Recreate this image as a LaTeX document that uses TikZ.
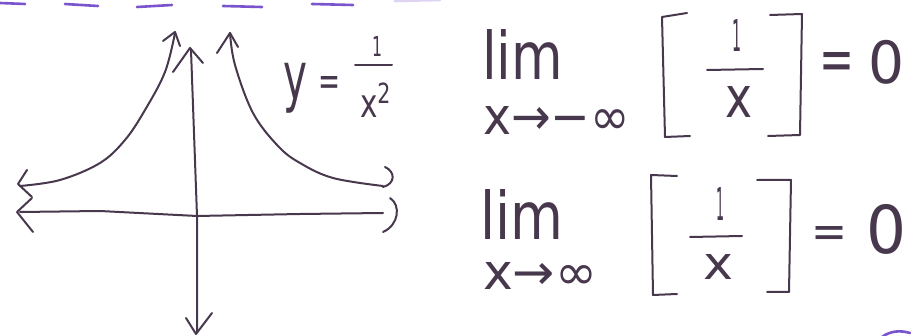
\documentclass[tikz,border=0pt]{standalone}
\usepackage{fontspec}
\usepackage{graphicx}
\setmainfont{DejaVu Sans}
\definecolor{ink}{RGB}{72,56,78}
\definecolor{hl}{RGB}{122,84,204}
\newcommand{\fitbox}[3]{\resizebox*{#1}{#2}{#3}}
\tikzset{
  pen/.style={draw=ink, line width=2pt, line cap=round, line join=round},
  hlpen/.style={draw=hl, line width=2.6pt, line cap=round},
  txt/.style={inner sep=0pt, outer sep=0pt, text=ink},
}
\begin{document}
\begin{tikzpicture}[x=1pt,y=-1pt]
\useasboundingbox[fill=white] (0,0) rectangle (911,336);
% purple dashes at top
\draw[hlpen] (0,3) -- (25,4);
\draw[hlpen] (65,4) -- (98,6);
\draw[hlpen] (137,7) -- (172,5);
\draw[hlpen] (223,6) -- (262,7);
\draw[hlpen] (312,4) -- (353,5);
\draw[hlpen, draw=hl!25] (395,1) -- (440,0);
\draw[hlpen] (882,337) .. controls (890,331) and (900,330) .. (910,333);
% axes
\coordinate (O) at (197,216);
\draw[pen] (191,50) -- (O) -- (197,332);
\draw[pen] (186,318) -- (196,334) -- (212,313);
\draw[pen] (173,72) -- (190,48) -- (203,63);
\draw[pen] (20,212) -- (100,211) -- (O) -- (300,214) -- (383,213);
\draw[pen] (32,198) -- (17,212) -- (33,232);
\draw[pen] (390,198) .. controls (401,205) and (399,225) .. (383,232);
% curves
\draw[pen] plot[smooth, tension=0.6] coordinates {(20,186) (60,180) (100,163) (125,140) (145,110) (165,72) (175,33)};
\draw[pen] (163,41) -- (175,32) -- (180,46);
\draw[pen] (27,170) -- (18,184) -- (32,197);
\draw[pen] plot[smooth, tension=0.6] coordinates {(230,33) (235,65) (253,113) (278,146) (300,163) (333,178) (383,186)};
\draw[pen] (217,53) -- (230,33) -- (238,47);
\draw[pen] (385,167) .. controls (396,172) and (395,184) .. (383,187);
% label y = 1/x^2
\node[txt, anchor=north west] (ylab) at (283,63) {\fitbox{24pt}{50pt}{y}};
\node[txt, anchor=north west] (yeq) at (318,77) {\fitbox{22pt}{19pt}{=}};
\node[txt, anchor=north west] (yone) at (372,37) {\fitbox{10pt}{20pt}{1}};
\draw[pen] (355,65) -- (392,65);
\node[txt, anchor=north west] (yden) at (360,83) {\fitbox{32pt}{35pt}{x\textsuperscript{2}}};
% first limit
\node[txt, anchor=base west] (limA) at (482,80) {\resizebox{81pt}{50pt}{lim}};
\node[txt, anchor=south west] (subA) at (483,135) {\fitbox{147pt}{28pt}{x→−∞}};
\draw[pen] (687,13) -- (662,17) -- (665,137) -- (690,136);
\node[txt, anchor=north west] (oneA) at (732,20) {\fitbox{9pt}{32pt}{1}};
\draw[pen] (707,70) -- (763,69);
\node[txt, anchor=north west] (xA) at (725,87) {\fitbox{27pt}{31pt}{x}};
\draw[pen] (770,15) -- (802,14) -- (800,135) -- (768,136);
\node[txt, anchor=north west] (eqA) at (819,53) {\fitbox{35pt}{28pt}{=}};
\node[txt, anchor=north west] (zeroA) at (868,40) {\fitbox{36pt}{44pt}{0}};
% second limit
\node[txt, anchor=base west] (limB) at (480,240) {\resizebox{83pt}{50pt}{lim}};
\node[txt, anchor=south west] (subB) at (483,290) {\fitbox{114pt}{27pt}{x→∞}};
\draw[pen] (677,176) -- (651,175) -- (653,295) -- (677,294);
\node[txt, anchor=north west] (oneB) at (716,187) {\fitbox{8pt}{33pt}{1}};
\draw[pen] (690,237) -- (742,236);
\node[txt, anchor=north west] (xB) at (703,255) {\fitbox{30pt}{25pt}{x}};
\draw[pen] (757,180) -- (791,180) -- (789,292) -- (767,292);
\node[txt, anchor=north west] (eqB) at (811,227) {\fitbox{36pt}{21pt}{=}};
\node[txt, anchor=north west] (zeroB) at (866,204) {\fitbox{40pt}{50pt}{0}};
\end{tikzpicture}
\end{document}
